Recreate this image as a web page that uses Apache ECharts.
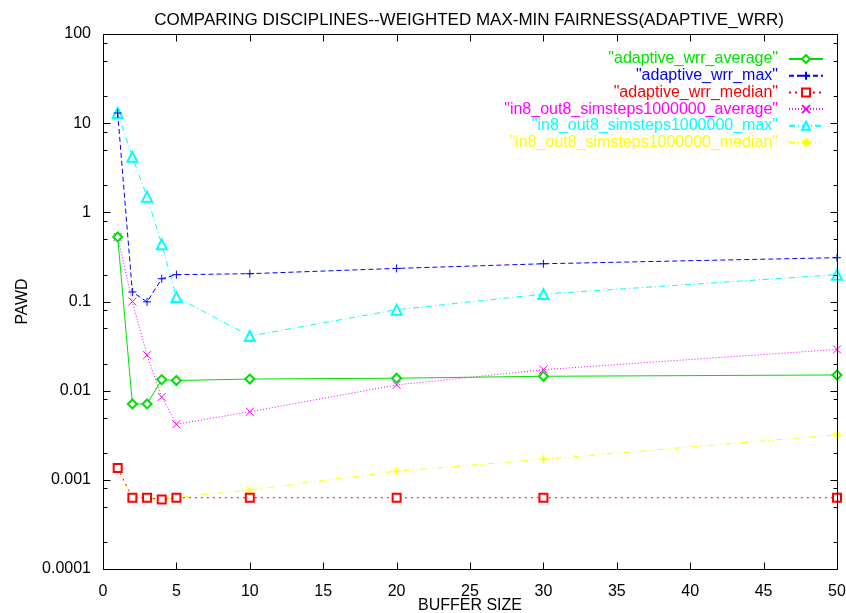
<!DOCTYPE html>
<html>
<head>
<meta charset="utf-8">
<script src="https://cdn.jsdelivr.net/npm/echarts@6/dist/echarts.min.js"></script>
<style>html,body{margin:0;padding:0;background:#fff}#c{width:846px;height:613px}</style>
</head>
<body>
<div id="c"></div>
<script>
const bufferSizes = [1, 2, 3, 4, 5, 10, 20, 30, 50];
const adaptiveAverage = [0.53, 0.0071, 0.0071, 0.0133, 0.013, 0.0135, 0.0138, 0.0145, 0.015];
const adaptiveMax = [13, 0.128, 0.099, 0.18, 0.2, 0.205, 0.235, 0.265, 0.31];
const adaptiveMedian = [0.00136, 0.00063, 0.00063, 0.0006, 0.00063, 0.00063, 0.00063, 0.00063, 0.00063];
const in8Average = [0.53, 0.1, 0.025, 0.0085, 0.0042, 0.0058, 0.0116, 0.0172, 0.029];
const in8Max = [13, 4.2, 1.5, 0.44, 0.112, 0.041, 0.081, 0.121, 0.2];
const in8Median = [0.00136, 0.00063, 0.00063, 0.0006, 0.00063, 0.00077, 0.00125, 0.0017, 0.0032];
const seriesNames = ['"adaptive_wrr_average"', '"adaptive_wrr_max"', '"adaptive_wrr_median"',
  '"in8_out8_simsteps1000000_average"', '"in8_out8_simsteps1000000_max"', '"in8_out8_simsteps1000000_median"'];
const xTickValues = [0, 5, 10, 15, 20, 25, 30, 35, 40, 45, 50];
const yMajorTicks = [0.0001, 0.001, 0.01, 0.1, 1, 10, 100];
const yMinorMultipliers = [2, 5, 8];

const X_MIN = 0, X_MAX = 50, Y_MIN = 0.0001, Y_MAX = 100;
const colors = ['#00e000', '#0000ff', '#ff0000', '#ff00ff', '#00ffff', '#ffff00'];
const dashes = ['solid', [5, 3], [2, 4], [1, 2], [6, 3, 1, 3], [6, 3, 1, 3, 1, 3]];
const plusPath = 'path://M0,5L10,5M5,0L5,10';
const crossPath = 'path://M0,0L10,10M10,0L0,10';
const starPath = 'path://M0,5L10,5M5,0L5,10M1.5,1.5L8.5,8.5M8.5,1.5L1.5,8.5';
const symbols = ['emptyDiamond', plusPath, 'emptyRect', crossPath, 'emptyTriangle', starPath];
const symbolSizes = [9, 8, 8, 8, 10, 9];
const allData = [adaptiveAverage, adaptiveMax, adaptiveMedian, in8Average, in8Max, in8Median];

const yTickList = [];
yMajorTicks.forEach(v => yTickList.push([v, 7]));
for (let i = 0; i < yMajorTicks.length - 1; i++) {
  yMinorMultipliers.forEach(m => yTickList.push([yMajorTicks[i] * m, 4]));
}

const font = 'Liberation Sans, Arial, sans-serif';
const chart = echarts.init(document.getElementById('c'), null, {renderer: 'canvas'});

const snap = v => Math.round(v) + 0.5;
const seg = (x1, y1, x2, y2) => ({
  type: 'line', shape: {x1: x1, y1: y1, x2: x2, y2: y2},
  style: {stroke: '#000', lineWidth: 1, fill: null}
});

const series = allData.map((d, i) => ({
  name: seriesNames[i],
  type: 'line',
  xAxisIndex: 0,
  yAxisIndex: 0,
  data: bufferSizes.map((x, j) => [x, d[j]]),
  symbol: symbols[i],
  symbolSize: symbolSizes[i],
  showAllSymbol: true,
  animation: false,
  lineStyle: {color: colors[i], width: 1, type: dashes[i]},
  itemStyle: {color: colors[i], borderColor: colors[i], borderWidth: 1},
  emphasis: {disabled: true},
  z: 10 - i
}));

series.push({
  name: 'frame', type: 'custom', clip: false, silent: true, animation: false, z: 20,
  data: [[X_MIN, Y_MIN]],
  renderItem: (params, api) => {
    const a = api.coord([X_MIN, Y_MIN]);
    const b = api.coord([X_MAX, Y_MAX]);
    const x0 = snap(a[0]), y0 = snap(a[1]), x1 = snap(b[0]), y1 = snap(b[1]);
    const children = [
      seg(x0, y0, x1, y0), seg(x0, y1, x1, y1),
      seg(x0, y0, x0, y1), seg(x1, y0, x1, y1)
    ];
    xTickValues.forEach(v => {
      const px = snap(api.coord([v, Y_MIN])[0]);
      children.push(seg(px, y0, px, y0 - 7));
      children.push(seg(px, y1, px, y1 + 7));
    });
    yTickList.forEach(t => {
      const py = snap(api.coord([X_MIN, t[0]])[1]);
      children.push(seg(x0, py, x0 + t[1], py));
      children.push(seg(x1, py, x1 - t[1], py));
    });
    return {type: 'group', children: children};
  }
});

chart.setOption({
  backgroundColor: '#fff',
  animation: false,
  title: {
    text: 'COMPARING DISCIPLINES--WEIGHTED MAX-MIN FAIRNESS(ADAPTIVE_WRR)',
    left: 464, textAlign: 'center', top: 7,
    textStyle: {fontFamily: font, fontSize: 17, fontWeight: 'normal', color: '#000'}
  },
  grid: {left: 103, right: 9, top: 34, bottom: 44, outerBoundsMode: 'none', containLabel: false, show: false},
  legend: {
    orient: 'vertical', right: 22, top: 51, align: 'right', padding: 0,
    itemWidth: 34, itemHeight: 10, itemGap: 0.7,
    data: seriesNames.map((n, i) => ({name: n, textStyle: {color: colors[i]}})),
    textStyle: {fontFamily: font, fontSize: 16, lineHeight: 16, padding: [0, 6, 0, 0]},
    selectedMode: false
  },
  xAxis: [{
    type: 'value', min: X_MIN, max: X_MAX, interval: 5, position: 'bottom',
    axisLine: {show: false}, axisTick: {show: false}, splitLine: {show: false},
    name: 'BUFFER SIZE', nameLocation: 'middle', nameGap: 29, nameMoveOverlap: false,
    nameTextStyle: {fontFamily: font, fontSize: 16, color: '#000'},
    axisLabel: {show: true, margin: 15, fontFamily: font, fontSize: 16, color: '#000'}
  }],
  yAxis: [{
    type: 'log', logBase: 10, min: Y_MIN, max: Y_MAX, interval: 1, position: 'left',
    axisLine: {show: false}, axisTick: {show: false}, splitLine: {show: false},
    name: 'PAWD', nameLocation: 'middle', nameGap: 72, nameRotate: 90, nameMoveOverlap: false,
    nameTextStyle: {fontFamily: font, fontSize: 16, color: '#000'},
    axisLabel: {show: true, margin: 12, fontFamily: font, fontSize: 16, color: '#000',
      formatter: v => String(parseFloat(Number(v).toPrecision(2)))}
  }],
  series: series
});
</script>
</body>
</html>
